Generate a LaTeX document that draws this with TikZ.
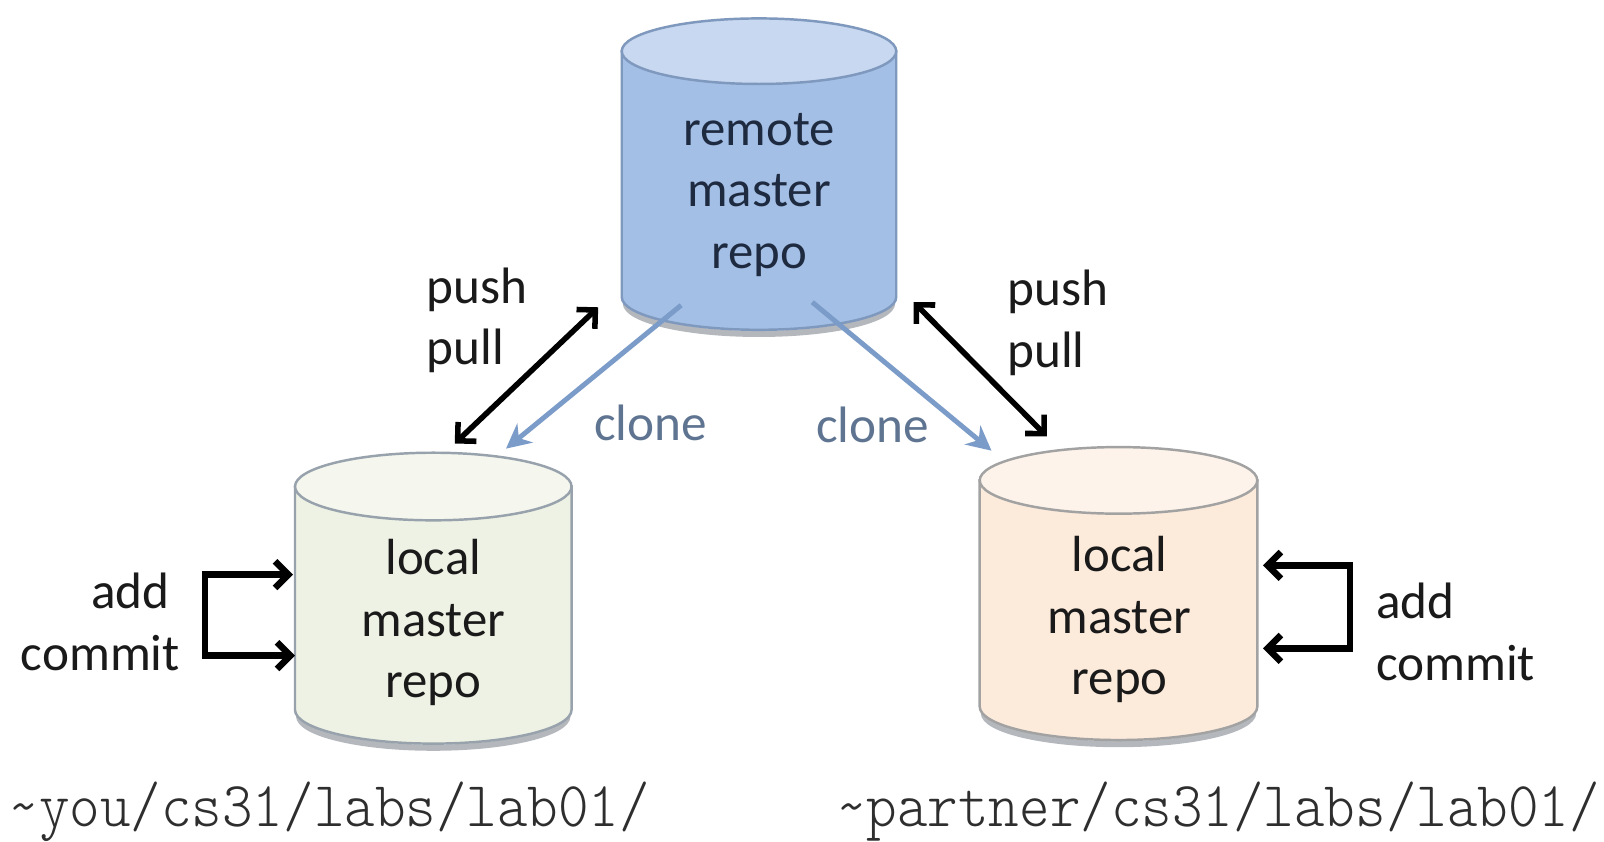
\documentclass[tikz,border=0pt]{standalone}
\usepackage{fontspec}
\setmainfont{Carlito}
\newfontfamily\pathfont{Latin Modern Mono Light}
\usetikzlibrary{arrows.meta}
\definecolor{rbody}{HTML}{A3BFE5}
\definecolor{rtop}{HTML}{C7D8F0}
\definecolor{rline}{HTML}{7F98BD}
\definecolor{rtext}{HTML}{1E2A40}
\definecolor{lbody}{HTML}{EEF2E4}
\definecolor{ltop}{HTML}{F5F7EF}
\definecolor{lline}{HTML}{98A2AC}
\definecolor{pbody}{HTML}{FCEADB}
\definecolor{ptop}{HTML}{FDF3EA}
\definecolor{pline}{HTML}{A2A2A2}
\definecolor{clonecol}{HTML}{7B9BC8}
\definecolor{clonetext}{HTML}{5E7491}
\definecolor{inktext}{HTML}{1A1A1A}
\definecolor{pathtext}{HTML}{2E2E2E}
\definecolor{shadowcol}{HTML}{B4B8BC}
% cx, a, b, ytop, ybot, body, top, line
\newcommand\drawcyl[8]{%
  \draw[shadowcol,line width=3pt,line cap=round]
    ({#1-#2+4},{#5+6}) .. controls ({#1-#2+4},{#5+4+0.5523*#3}) and ({#1-0.5523*#2},{#5+#3+4}) .. (#1,{#5+#3+4})
    .. controls ({#1+0.5523*#2},{#5+#3+4}) and ({#1+#2-4},{#5+4+0.5523*#3}) .. ({#1+#2-4},{#5+6});
  \filldraw[fill=#6,draw=#8,line width=1.2pt]
    ({#1-#2},#4) -- ({#1-#2},#5)
    .. controls ({#1-#2},{#5+0.5523*#3}) and ({#1-0.5523*#2},{#5+#3}) .. (#1,{#5+#3})
    .. controls ({#1+0.5523*#2},{#5+#3}) and ({#1+#2},{#5+0.5523*#3}) .. ({#1+#2},#5)
    -- ({#1+#2},#4) -- cycle;
  \filldraw[fill=#7,draw=#8,line width=1.2pt] (#1,#4) ellipse [x radius=#2, y radius=#3];
}
\begin{document}
\begin{tikzpicture}[x=0.5pt,y=-0.5pt,
  cyltext/.style={align=center,font=\fontsize{24.8}{30}\selectfont,inner sep=0pt},
  lbl/.style={font=\fontsize{25}{30}\selectfont,inner sep=0pt,text=inktext},
  pathlbl/.style={font=\pathfont\fontsize{28.4}{30}\selectfont,inner sep=0pt,text=pathtext,anchor=base west},
  blackarrow/.style={line width=2.7pt,draw=black,{Straight Barb[length=6.5pt,width=13pt]}-{Straight Barb[length=6.5pt,width=13pt]}},
  clonearrow/.style={line width=2.4pt,draw=clonecol,-{Stealth[length=12pt,width=12pt]}},
  bracket/.style={line width=3.2pt,draw=black,{Straight Barb[length=6.5pt,width=13pt]}-{Straight Barb[length=6.5pt,width=13pt]}}
]
\useasboundingbox (0,0) rectangle (1566,822);
\fill[white] (0,0) rectangle (1566,822);

% cylinders
\drawcyl{741}{134}{32}{50}{290}{rbody}{rtop}{rline}
\drawcyl{423}{135}{33}{475}{693}{lbody}{ltop}{lline}
\drawcyl{1092}{135.5}{32.5}{469}{690}{pbody}{ptop}{pline}

\node[cyltext,text=rtext] (remote) at (741,190) {remote\\master\\repo};
\node[cyltext,text=inktext] (mine) at (423,608) {local\\master\\repo};
\node[cyltext,text=inktext] (theirs) at (1093,605) {local\\master\\repo};

% connector end points
\coordinate (ppL1) at (584,300);
\coordinate (ppL2) at (444,433);
\coordinate (ppR1) at (892,295);
\coordinate (ppR2) at (1022,426);
\coordinate (clL1) at (665,298);
\coordinate (clL2) at (494,438);
\coordinate (clR1) at (793,295);
\coordinate (clR2) at (968,440);
\coordinate (adL1) at (286,561);
\coordinate (adL2) at (288,640);
\coordinate (adR1) at (1233,552);
\coordinate (adR2) at (1233,633);

\draw[clonearrow] (clL1) -- (clL2);
\draw[clonearrow] (clR1) -- (clR2);
\draw[blackarrow] (ppL1) -- (ppL2);
\draw[blackarrow] (ppR1) -- (ppR2);
\draw[bracket] (adL1) -- ++(-86,0) |- (adL2);
\draw[bracket] (adR1) -- ++(85,0) |- (adR2);

% labels
\node[lbl,align=left,anchor=west] (ppLtext) at (416,313) {push\\pull};
\node[lbl,align=left,anchor=west] (ppRtext) at (983,315) {push\\pull};
\node[lbl,text=clonetext] (clLtext) at (635,413) {clone};
\node[lbl,text=clonetext] (clRtext) at (852,415) {clone};
\node[lbl,align=right,anchor=east] (adLtext) at (176,607) {add\hspace*{5pt}\\commit};
\node[lbl,align=left,anchor=west] (adRtext) at (1343,617) {add\\commit};

\node[pathlbl] (youpath) at (8,807) {\scalebox{1}[1.1]{\textasciitilde you/cs31/labs/lab01/}};
\node[pathlbl] (partnerpath) at (816,807) {\scalebox{1}[1.1]{\textasciitilde partner/cs31/labs/lab01/}};
\end{tikzpicture}
\end{document}
